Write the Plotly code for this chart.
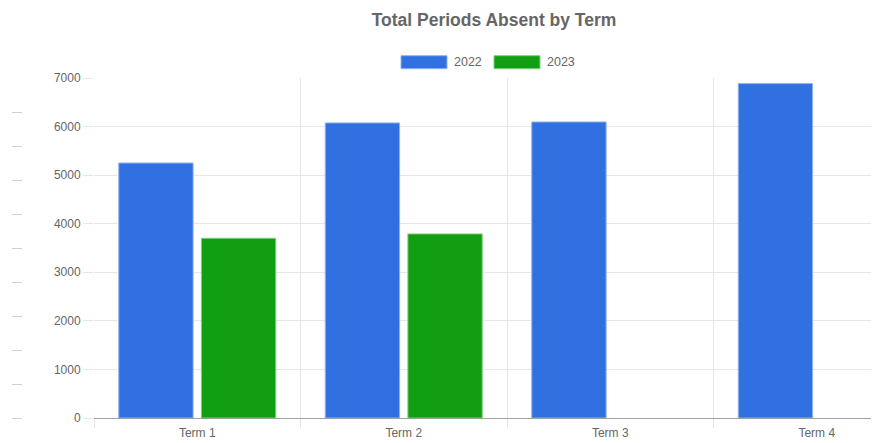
import plotly.graph_objects as go

terms = ["Term 1", "Term 2", "Term 3", "Term 4"]
series_names = ["2022", "2023"]
values_2022 = [5250, 6075, 6095, 6885]
values_2023 = [3700, 3790, None, None]
colors = ["#3170e0", "#119e13"]
border_colors = ["#8fb2f0", "#7fcf80"]
y_ticks = [0, 1000, 2000, 3000, 4000, 5000, 6000, 7000]
side_ticks = [0, 700, 1400, 2100, 2800, 3500, 4200, 4900, 5600, 6300]

OFF = 8  # default page body margin
W, H = 879, 443 - OFF
# reference (window) pixel geometry
REF_L, REF_TOP, REF_ZERO = 94, 78.3, 418.3
L = REF_L - OFF
T = REF_TOP - OFF
B = H - (REF_ZERO - OFF)
FONT = "Liberation Sans, Arial, Helvetica, sans-serif"
GREY = "#666666"


def px_x(x):
    return (x - OFF) / W


def px_y(y):
    return (REF_ZERO - y) / (REF_ZERO - REF_TOP)


fig = go.Figure()
for name, vals, c, bc in zip(series_names, [values_2022, values_2023], colors, border_colors):
    fig.add_trace(go.Bar(x=terms, y=vals, name=name, marker=dict(color=c, line=dict(color=bc, width=1)),
                         showlegend=False))

# invisible trace to materialise the faint side axis
fig.add_trace(go.Scatter(x=terms, y=[None] * len(terms), yaxis="y2", showlegend=False, hoverinfo="skip"))

shapes = []
annotations = []
legend_items = [(401, 447, 452), (494, 540, 545)]
for (x0, x1, tx), name, c, bc in zip(legend_items, series_names, colors, border_colors):
    shapes.append(dict(type="rect", xref="paper", yref="paper", x0=px_x(x0), x1=px_x(x1),
                       y0=px_y(69), y1=px_y(56), fillcolor=c, line=dict(color=bc, width=1)))
    annotations.append(dict(text=name, xref="paper", yref="paper", x=px_x(tx), y=px_y(62.5),
                            xanchor="left", yanchor="middle", showarrow=False,
                            font=dict(family=FONT, size=12.5, color=GREY)))

fig.update_layout(
    width=W, height=H,
    margin=dict(l=0, r=0, t=T, b=B, pad=0, autoexpand=False),
    paper_bgcolor="white", plot_bgcolor="white",
    barmode="group", bargap=0.2, bargroupgap=0.1,
    title=dict(text="<b>Total Periods Absent by Term</b>", x=(494 - OFF) / W, xanchor="center",
               y=1 - (20 - OFF) / H, yanchor="middle", yref="container",
               font=dict(family=FONT, size=17.5, color=GREY)),
    xaxis=dict(domain=[L / W, 1], range=[-0.5, -0.5 + (W - L) / 206.5], type="category",
               tickson="boundaries", automargin=False,
               showgrid=True, gridcolor="#e6e6e6", gridwidth=1,
               ticks="outside", ticklen=9, tickcolor="#e6e6e6", ticklabelstandoff=4,
               showline=True, linecolor="#a0a0a0", linewidth=1,
               tickfont=dict(family=FONT, size=12, color=GREY)),
    yaxis=dict(range=[0, 7000], tickvals=y_ticks, showgrid=True, gridcolor="#e6e6e6",
               automargin=False,
               ticks="outside", ticklen=10, tickcolor="#e6e6e6", zeroline=False, showline=False,
               tickfont=dict(family=FONT, size=12, color=GREY)),
    yaxis2=dict(range=[0, 7000], overlaying="y", anchor="free", position=(22 - OFF) / W, side="left",
                automargin=False,
                tickvals=side_ticks, ticks="outside", ticklen=10, tickcolor="#d0d0d0",
                showticklabels=False, showgrid=False, zeroline=False, showline=False),
    shapes=shapes, annotations=annotations,
    showlegend=False,
)

fig.write_html("out.html")
